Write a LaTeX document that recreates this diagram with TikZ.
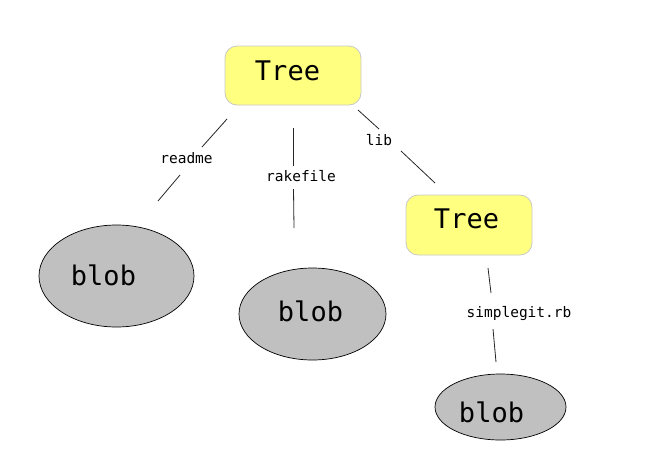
\documentclass[tikz,border=0pt]{standalone}
\usepackage{fontspec}
\setmonofont{DejaVu Sans Mono}
\definecolor{treeyellow}{RGB}{255,255,128}
\definecolor{treeborder}{RGB}{200,200,200}
\definecolor{blobgray}{RGB}{192,192,192}
\tikzset{
  treebox/.style={draw=treeborder, fill=treeyellow, rounded corners=12pt, line width=0.8pt, inner sep=0pt},
  blobshape/.style={draw=black, fill=blobgray, ellipse, line width=0.7pt, inner sep=0pt},
  bigtxt/.style={font=\ttfamily\fontsize{27}{30}\selectfont, anchor=base, inner sep=0pt},
  lbl/.style={font=\ttfamily\fontsize{14.5}{17}\selectfont, anchor=base, inner sep=0pt},
  conn/.style={draw=black!85, line width=0.8pt}
}
\usetikzlibrary{shapes.geometric}
\begin{document}
\begin{tikzpicture}[x=1pt,y=-1pt]
\useasboundingbox (0,0) rectangle (655,464);
% trees
\node[treebox, minimum width=136pt, minimum height=59pt] (t1) at (293,75.5) {};
\node[bigtxt] (t1txt) at (287.5,80) {Tree};
\node[treebox, minimum width=126pt, minimum height=60pt] (t2) at (469,225) {};
\node[bigtxt] (t2txt) at (466.5,228) {Tree};
% blobs
\node[blobshape, minimum width=155pt, minimum height=102pt] (b1) at (116.5,276) {};
\node[bigtxt] (b1txt) at (103.5,285) {blob};
\node[blobshape, minimum width=147pt, minimum height=92pt] (b2) at (312.5,314) {};
\node[bigtxt] (b2txt) at (310.5,321) {blob};
\node[blobshape, minimum width=131pt, minimum height=66pt] (b3) at (500.5,407) {};
\node[bigtxt] (b3txt) at (491.5,422) {blob};
% connector end points
\coordinate (r1) at (227,119); \coordinate (r2) at (202,147);
\coordinate (r3) at (180,175); \coordinate (r4) at (158,201);
\coordinate (k1) at (293,128); \coordinate (k2) at (293,166);
\coordinate (k3) at (293.5,189); \coordinate (k4) at (294,228);
\coordinate (l1) at (358,110); \coordinate (l2) at (379,129);
\coordinate (l3) at (401,151); \coordinate (l4) at (435,183);
\coordinate (s1) at (488,268); \coordinate (s2) at (491,293);
\coordinate (s3) at (493,329); \coordinate (s4) at (496,362);
% connectors
\draw[conn] (r1) -- (r2); \draw[conn] (r3) -- (r4);
\draw[conn] (k1) -- (k2); \draw[conn] (k3) -- (k4);
\draw[conn] (l1) -- (l2); \draw[conn] (l3) -- (l4);
\draw[conn] (s1) -- (s2); \draw[conn] (s3) -- (s4);
% labels
\node[lbl] (lr) at (186.5,163) {readme};
\node[lbl] (lk) at (301,181) {rakefile};
\node[lbl] (ll) at (379,145) {lib};
\node[lbl] (ls) at (519,317) {simplegit.rb};
\end{tikzpicture}
\end{document}
